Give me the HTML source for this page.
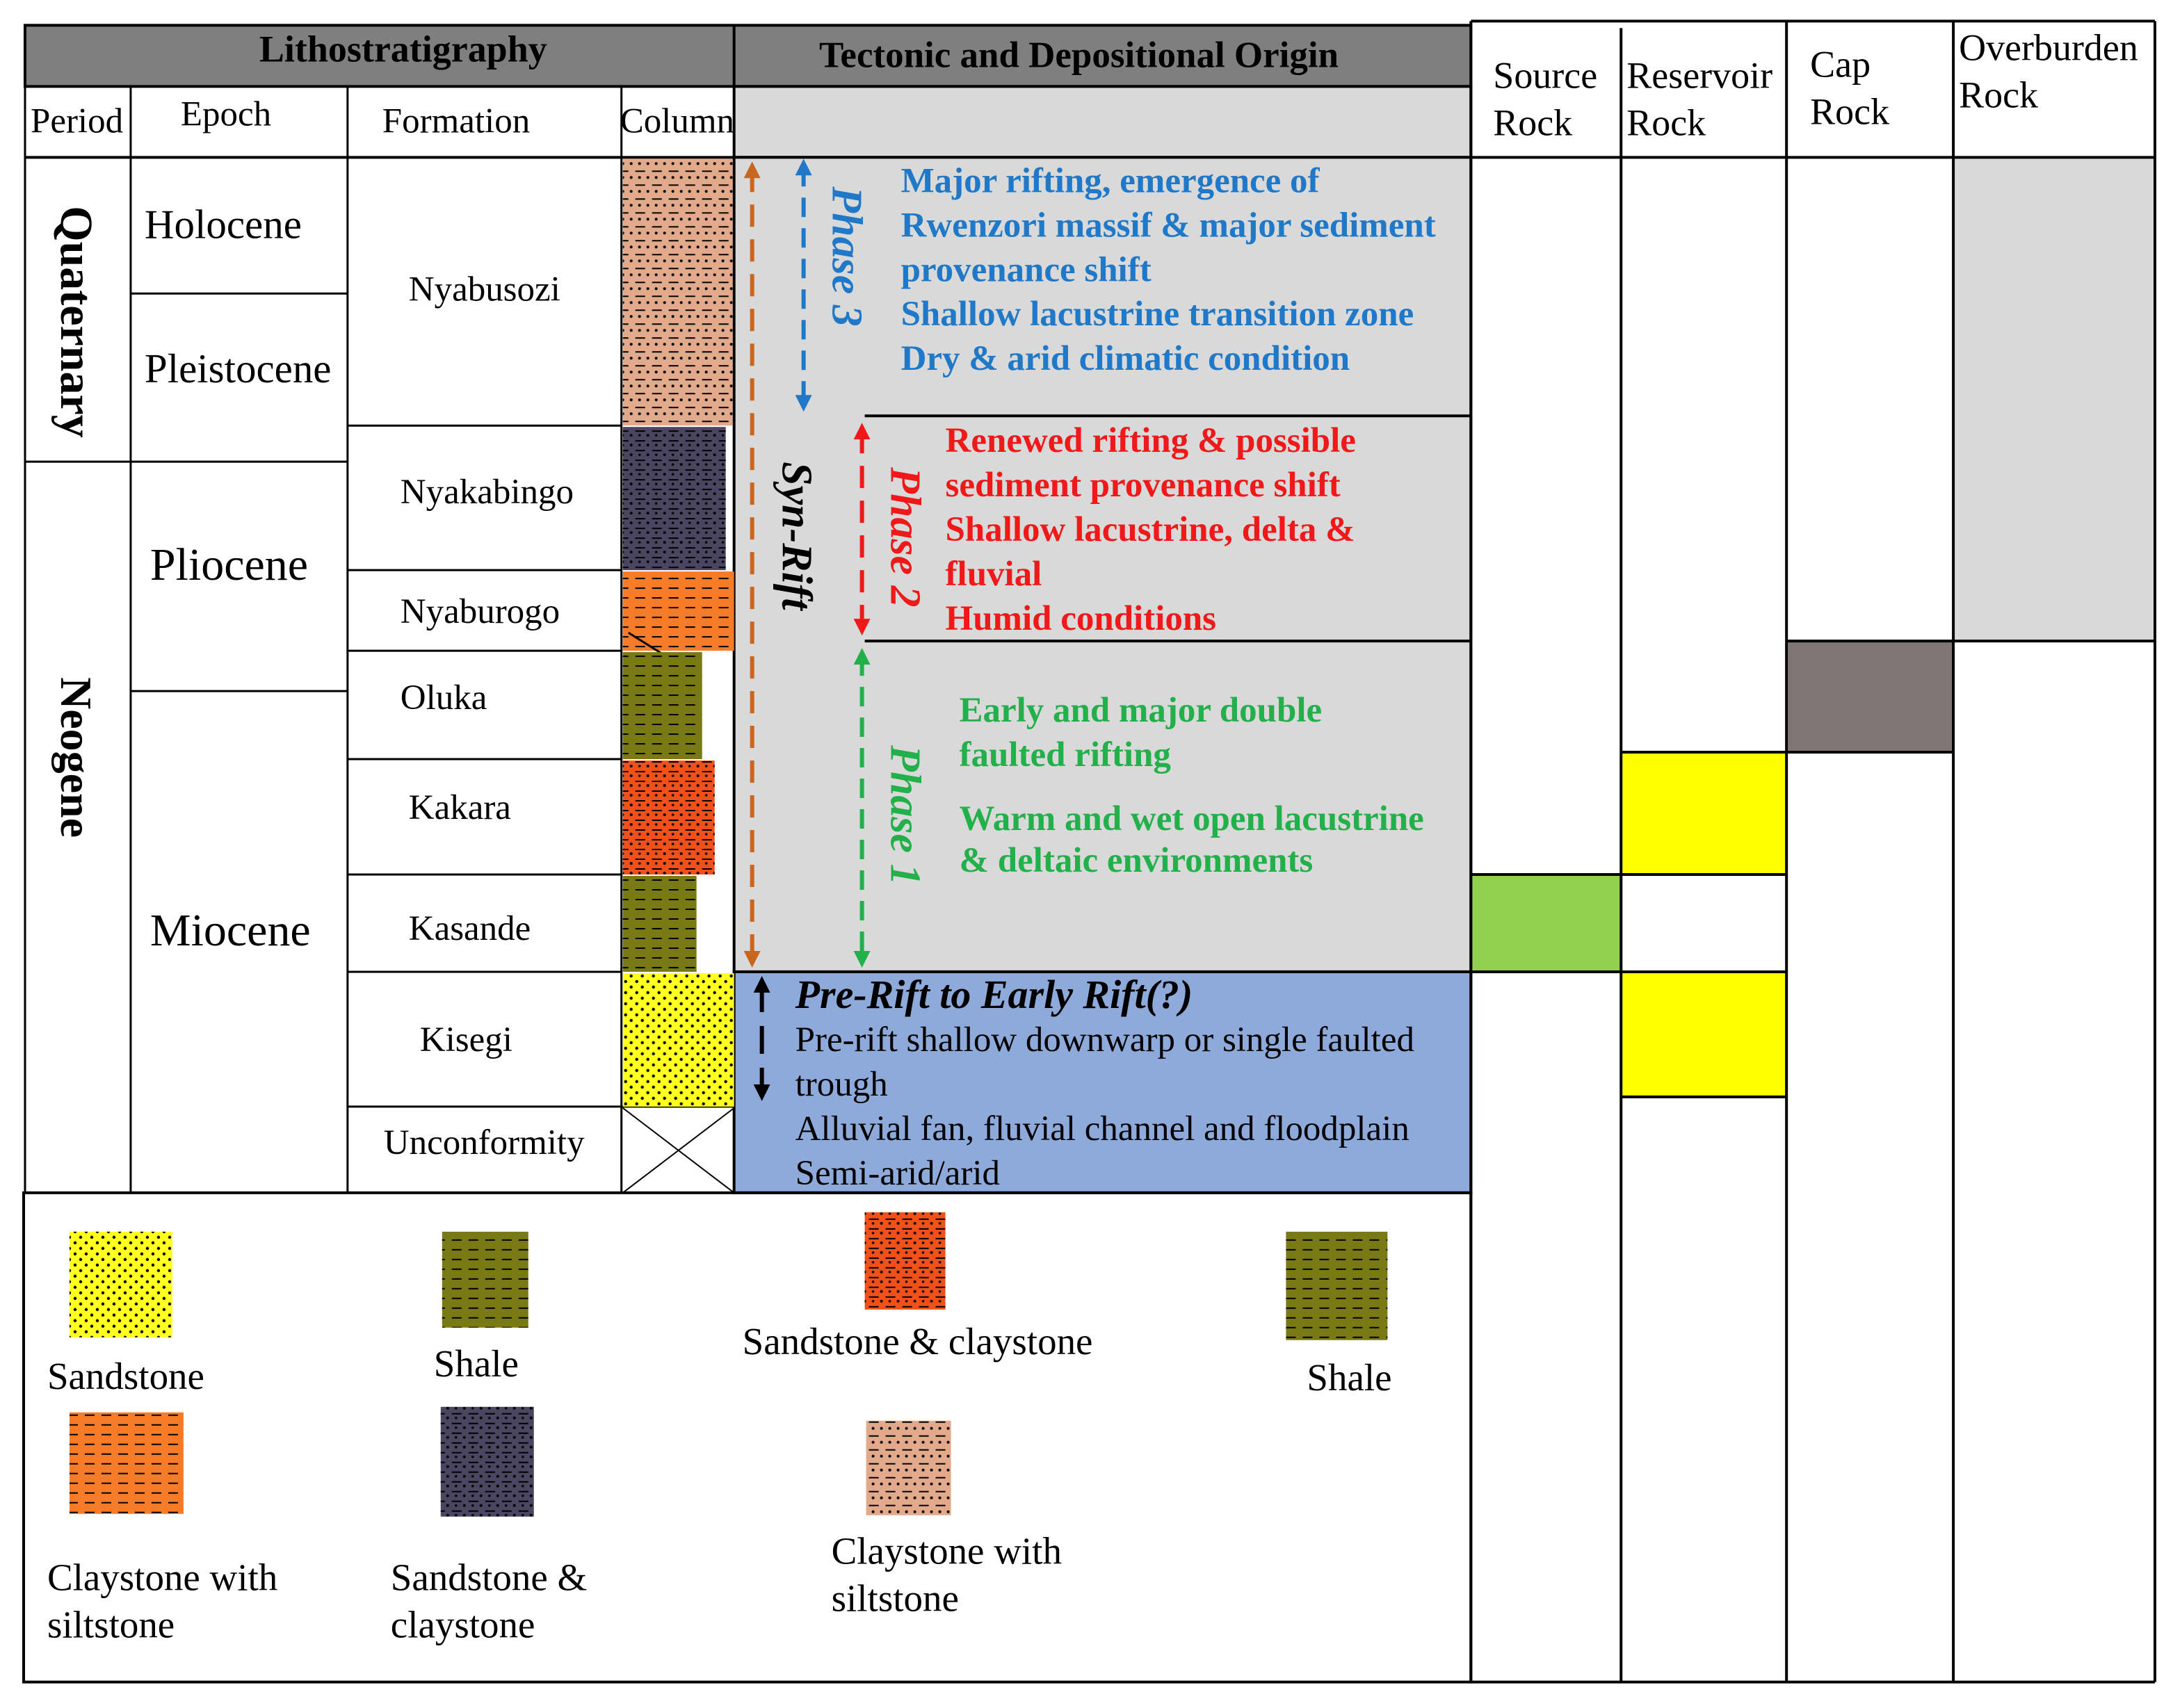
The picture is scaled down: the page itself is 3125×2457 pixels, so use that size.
<!DOCTYPE html>
<html><head><meta charset="utf-8"><style>
html,body{margin:0;padding:0;background:#fff;}
svg{display:block;}
text{font-family:"Liberation Serif",serif;}
</style></head><body>
<svg width="3125" height="2457" viewBox="0 0 1563 1228.5" xmlns="http://www.w3.org/2000/svg">
<defs>
<pattern id="dots" width="8" height="8" patternUnits="userSpaceOnUse"><circle cx="2" cy="2" r="1.1" fill="#000"/><circle cx="6" cy="6" r="1.1" fill="#000"/></pattern>
<pattern id="dash" width="12" height="7" patternUnits="userSpaceOnUse"><line x1="1" y1="3" x2="8" y2="3" stroke="#000" stroke-width="1"/></pattern>
<pattern id="dashdot" width="12" height="10" patternUnits="userSpaceOnUse"><line x1="1" y1="3" x2="8" y2="3" stroke="#000" stroke-width="1"/><circle cx="4" cy="7.5" r="1" fill="#000"/><circle cx="10" cy="7.5" r="1" fill="#000"/></pattern>
<pattern id="dashdot2" width="12" height="7" patternUnits="userSpaceOnUse"><line x1="1" y1="2" x2="8" y2="2" stroke="#000" stroke-width="1"/><circle cx="10" cy="5" r="1" fill="#000"/><circle cx="4" cy="5" r="0.9" fill="#000"/></pattern>
<marker id="aO" viewBox="0 0 10 10" refX="5" refY="5" markerWidth="4" markerHeight="4" orient="auto-start-reverse"><path d="M0,0 L10,5 L0,10 z" fill="#c8651e"/></marker>
<marker id="aB" viewBox="0 0 10 10" refX="5" refY="5" markerWidth="4" markerHeight="4" orient="auto-start-reverse"><path d="M0,0 L10,5 L0,10 z" fill="#1f78c8"/></marker>
<marker id="aR" viewBox="0 0 10 10" refX="5" refY="5" markerWidth="4" markerHeight="4" orient="auto-start-reverse"><path d="M0,0 L10,5 L0,10 z" fill="#f01818"/></marker>
<marker id="aG" viewBox="0 0 10 10" refX="5" refY="5" markerWidth="4" markerHeight="4" orient="auto-start-reverse"><path d="M0,0 L10,5 L0,10 z" fill="#22b04a"/></marker>
<marker id="aK" viewBox="0 0 10 10" refX="5" refY="5" markerWidth="4" markerHeight="4" orient="auto-start-reverse"><path d="M0,0 L10,5 L0,10 z" fill="#000"/></marker>
</defs>

<rect x="18" y="18" width="1040" height="44" fill="#7f7f7f" stroke="#000" stroke-width="2"/>
<line x1="528" y1="18" x2="528" y2="62" stroke="#000" stroke-width="2"/>
<text x="290" y="44" font-size="27" font-weight="bold" text-anchor="middle">Lithostratigraphy</text>
<text x="776" y="48" font-size="26.5" font-weight="bold" text-anchor="middle">Tectonic and Depositional Origin</text>

<rect x="528" y="62" width="530" height="51" fill="#d9d9d9" stroke="#000" stroke-width="2"/>
<rect x="528" y="113" width="530" height="586" fill="#d9d9d9" stroke="#000" stroke-width="2"/>
<rect x="528" y="699" width="530" height="159" fill="#8eaadb" stroke="#000" stroke-width="2"/>
<line x1="622" y1="299" x2="1058" y2="299" stroke="#000" stroke-width="2"/>
<line x1="622" y1="461" x2="1058" y2="461" stroke="#000" stroke-width="2"/>

<g stroke="#000" stroke-width="1.5" fill="none">
<rect x="18" y="62" width="510" height="796"/>
<line x1="18" y1="113" x2="528" y2="113" stroke-width="2"/>
<line x1="94" y1="62" x2="94" y2="858"/>
<line x1="250" y1="62" x2="250" y2="858"/>
<line x1="447" y1="62" x2="447" y2="858"/>
<line x1="18" y1="332" x2="94" y2="332"/>
<line x1="94" y1="211" x2="250" y2="211"/>
<line x1="94" y1="332" x2="250" y2="332"/>
<line x1="94" y1="497" x2="250" y2="497"/>
<line x1="250" y1="306" x2="447" y2="306"/>
<line x1="250" y1="410" x2="447" y2="410"/>
<line x1="250" y1="468" x2="447" y2="468"/>
<line x1="250" y1="546" x2="447" y2="546"/>
<line x1="250" y1="629" x2="447" y2="629"/>
<line x1="250" y1="699" x2="447" y2="699"/>
<line x1="250" y1="796" x2="528" y2="796"/>
</g>
<text x="22" y="95" font-size="25.5">Period</text>
<text x="130" y="90" font-size="25.5">Epoch</text>
<text x="275" y="95" font-size="25.5">Formation</text>
<text x="446" y="95" font-size="25.5">Column</text>
<text transform="translate(44,148) rotate(90)" font-size="33" font-weight="bold">Quaternary</text>
<text transform="translate(44,487) rotate(90)" font-size="32" font-weight="bold">Neogene</text>
<text x="104" y="171" font-size="29.5">Holocene</text>
<text x="104" y="275" font-size="29.5">Pleistocene</text>
<text x="108" y="417" font-size="33">Pliocene</text>
<text x="108" y="680" font-size="33">Miocene</text>
<text x="294" y="216" font-size="25.5">Nyabusozi</text>
<text x="288" y="362" font-size="25.5">Nyakabingo</text>
<text x="288" y="448" font-size="25.5">Nyaburogo</text>
<text x="288" y="510" font-size="25.5">Oluka</text>
<text x="294" y="589" font-size="25.5">Kakara</text>
<text x="294" y="676" font-size="25.5">Kasande</text>
<text x="302" y="756" font-size="25.5">Kisegi</text>
<text x="276" y="830" font-size="25.5">Unconformity</text>

<rect x="448" y="114" width="79" height="192" fill="#e2a98a"/><rect x="448" y="114" width="79" height="192" fill="url(#dashdot)"/>
<rect x="448" y="307" width="74" height="103" fill="#4a4560"/><rect x="448" y="307" width="74" height="103" fill="url(#dashdot2)"/>
<rect x="448" y="411" width="80" height="57" fill="#f57b28"/><rect x="448" y="411" width="80" height="57" fill="url(#dash)"/>
<line x1="452" y1="455" x2="492" y2="480" stroke="#000" stroke-width="1.5"/>
<rect x="448" y="469" width="57" height="77" fill="#7a7a14"/><rect x="448" y="469" width="57" height="77" fill="url(#dash)"/>
<rect x="448" y="547" width="66" height="82" fill="#f0501a"/><rect x="448" y="547" width="66" height="82" fill="url(#dashdot2)"/>
<rect x="448" y="630" width="53" height="69" fill="#7a7a14"/><rect x="448" y="630" width="53" height="69" fill="url(#dash)"/>
<rect x="448" y="700" width="80" height="96" fill="#ffff20"/><rect x="448" y="700" width="80" height="96" fill="url(#dots)"/>
<line x1="448" y1="797" x2="528" y2="858" stroke="#000"/><line x1="528" y1="797" x2="448" y2="858" stroke="#000"/>

<line x1="541" y1="122" x2="541" y2="690" stroke="#c8651e" stroke-width="3" stroke-dasharray="16,9" marker-start="url(#aO)" marker-end="url(#aO)"/>
<line x1="578" y1="120" x2="578" y2="290" stroke="#1f78c8" stroke-width="3" stroke-dasharray="14,8" marker-start="url(#aB)" marker-end="url(#aB)"/>
<line x1="620" y1="310" x2="620" y2="451" stroke="#f01818" stroke-width="3" stroke-dasharray="16,9" marker-start="url(#aR)" marker-end="url(#aR)"/>
<line x1="620" y1="472" x2="620" y2="690" stroke="#22b04a" stroke-width="3" stroke-dasharray="14,8" marker-start="url(#aG)" marker-end="url(#aG)"/>
<line x1="548" y1="708" x2="548" y2="786" stroke="#000" stroke-width="3" stroke-dasharray="20,10" marker-start="url(#aK)" marker-end="url(#aK)"/>

<text transform="translate(563,332) rotate(90)" font-size="31" font-weight="bold" font-style="italic">Syn-Rift</text>
<text transform="translate(599,134) rotate(90)" font-size="31" font-weight="bold" font-style="italic" fill="#1f78c8">Phase 3</text>
<text transform="translate(641,336) rotate(90)" font-size="31" font-weight="bold" font-style="italic" fill="#f01818">Phase 2</text>
<text transform="translate(641,536) rotate(90)" font-size="31" font-weight="bold" font-style="italic" fill="#22b04a">Phase 1</text>

<g font-size="25.5" font-weight="bold" fill="#1f78c8">
<text x="648" y="138">Major rifting, emergence of</text>
<text x="648" y="170">Rwenzori massif &amp; major sediment</text>
<text x="648" y="202">provenance shift</text>
<text x="648" y="234">Shallow lacustrine transition zone</text>
<text x="648" y="266">Dry &amp; arid climatic condition</text>
</g>
<g font-size="25.5" font-weight="bold" fill="#f01818">
<text x="680" y="325">Renewed rifting &amp; possible</text>
<text x="680" y="357">sediment provenance shift</text>
<text x="680" y="389">Shallow lacustrine, delta &amp;</text>
<text x="680" y="421">fluvial</text>
<text x="680" y="453">Humid conditions</text>
</g>
<g font-size="25.5" font-weight="bold" fill="#22b04a">
<text x="690" y="519">Early and major double</text>
<text x="690" y="551">faulted rifting</text>
<text x="690" y="597">Warm and wet open lacustrine</text>
<text x="690" y="627">&amp; deltaic environments</text>
</g>
<text x="572" y="725" font-size="29" font-weight="bold" font-style="italic">Pre-Rift to Early Rift(?)</text>
<g font-size="25.5">
<text x="572" y="756">Pre-rift shallow downwarp or single faulted</text>
<text x="572" y="788">trough</text>
<text x="572" y="820">Alluvial fan, fluvial channel and floodplain</text>
<text x="572" y="852">Semi-arid/arid</text>
</g>

<rect x="17" y="858" width="1041" height="352" fill="none" stroke="#000" stroke-width="2"/>
<rect x="50" y="886" width="74" height="76" fill="#ffff20"/><rect x="50" y="886" width="74" height="76" fill="url(#dots)"/>
<text x="34" y="999" font-size="27.5">Sandstone</text>
<rect x="318" y="886" width="62" height="69" fill="#7a7a14"/><rect x="318" y="886" width="62" height="69" fill="url(#dash)"/>
<text x="312" y="990" font-size="27.5">Shale</text>
<rect x="622" y="872" width="58" height="70" fill="#f0501a"/><rect x="622" y="872" width="58" height="70" fill="url(#dashdot2)"/>
<text x="534" y="974" font-size="27.5">Sandstone &amp; claystone</text>
<rect x="925" y="886" width="73" height="78" fill="#7a7a14"/><rect x="925" y="886" width="73" height="78" fill="url(#dash)"/>
<text x="940" y="1000" font-size="27.5">Shale</text>
<rect x="50" y="1016" width="82" height="73" fill="#f57b28"/><rect x="50" y="1016" width="82" height="73" fill="url(#dash)"/>
<text x="34" y="1144" font-size="27.5">Claystone with</text><text x="34" y="1178" font-size="27.5">siltstone</text>
<rect x="317" y="1012" width="67" height="79" fill="#4a4560"/><rect x="317" y="1012" width="67" height="79" fill="url(#dashdot2)"/>
<text x="281" y="1144" font-size="27.5">Sandstone &amp;</text><text x="281" y="1178" font-size="27.5">claystone</text>
<rect x="623" y="1022" width="61" height="68" fill="#e2a98a"/><rect x="623" y="1022" width="61" height="68" fill="url(#dashdot)"/>
<text x="598" y="1125" font-size="27.5">Claystone with</text><text x="598" y="1159" font-size="27.5">siltstone</text>

<rect x="1406" y="113" width="144" height="348" fill="#d9d9d9"/>
<rect x="1286" y="461" width="119" height="80" fill="#7f7575"/>
<rect x="1167" y="541" width="118" height="88" fill="#ffff00"/>
<rect x="1167" y="699" width="118" height="90" fill="#ffff00"/>
<rect x="1059" y="629" width="107" height="70" fill="#92d050"/>
<g stroke="#000" stroke-width="2" fill="none">
<line x1="1058" y1="15" x2="1058" y2="1210"/>
<line x1="1166" y1="20" x2="1166" y2="1210"/>
<line x1="1285" y1="15" x2="1285" y2="1210"/>
<line x1="1405" y1="15" x2="1405" y2="1210"/>
<line x1="1550" y1="15" x2="1550" y2="1210"/>
<line x1="1058" y1="15" x2="1550" y2="15"/>
<line x1="1058" y1="1210" x2="1550" y2="1210"/>
<line x1="1058" y1="113" x2="1550" y2="113"/>
<line x1="1405" y1="461" x2="1550" y2="461"/>
<line x1="1285" y1="461" x2="1405" y2="461"/>
<line x1="1285" y1="541" x2="1405" y2="541"/>
<line x1="1166" y1="541" x2="1285" y2="541"/>
<line x1="1058" y1="629" x2="1285" y2="629"/>
<line x1="1058" y1="699" x2="1285" y2="699"/>
<line x1="1166" y1="789" x2="1285" y2="789"/>
</g>
<g font-size="27">
<text x="1074" y="63">Source</text><text x="1074" y="97">Rock</text>
<text x="1170" y="63">Reservoir</text><text x="1170" y="97">Rock</text>
<text x="1302" y="55">Cap</text><text x="1302" y="89">Rock</text>
<text x="1409" y="43">Overburden</text><text x="1409" y="77">Rock</text>
</g>
</svg>
</body></html>
